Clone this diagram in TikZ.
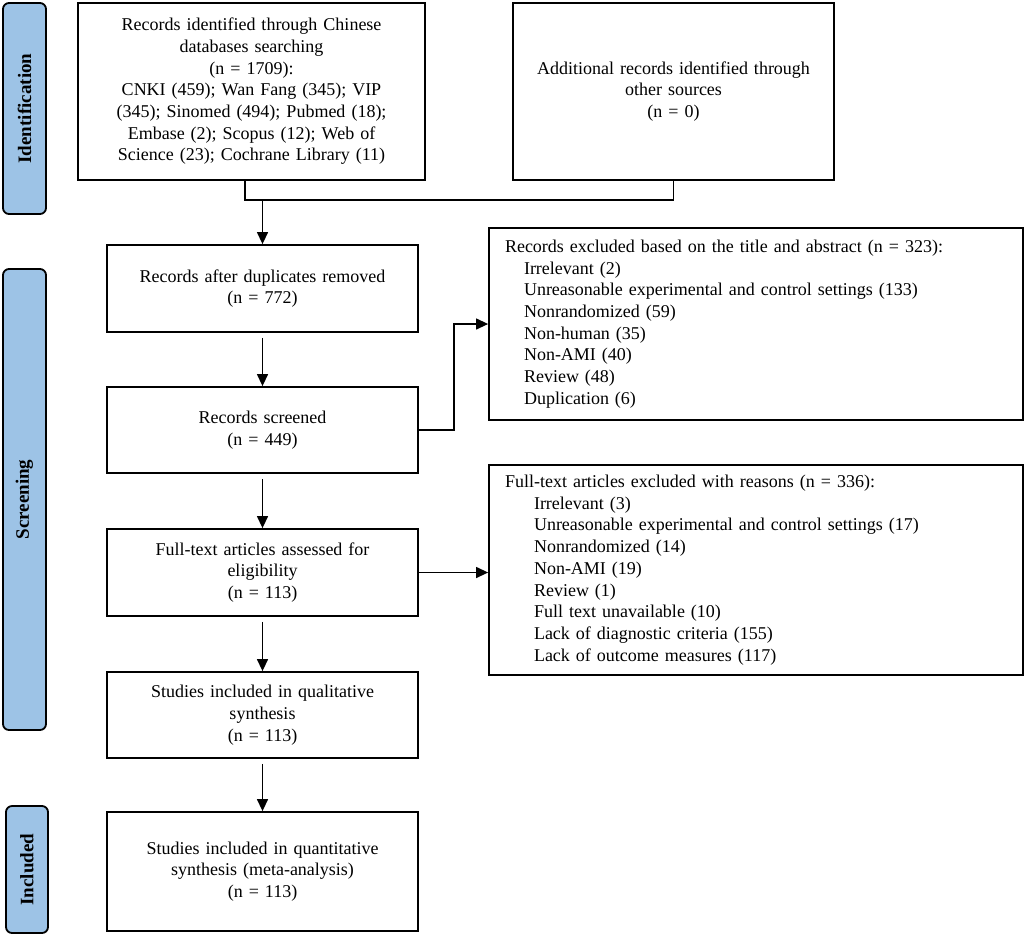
\documentclass[tikz,border=0pt]{standalone}
\usepackage{fontspec}
\setmainfont{Liberation Serif}
\usetikzlibrary{arrows.meta}
\definecolor{tabblue}{RGB}{157,195,230}

\begin{document}
\begin{tikzpicture}[x=1pt,y=-1pt,
  box/.style={draw,line width=1.8pt,align=center,inner xsep=6pt,font=\fontsize{18}{21.7}\selectfont},
  exbox/.style={draw,line width=1.8pt,align=left,inner xsep=16pt,text width=502pt,font=\fontsize{18}{21.7}\selectfont},
  tab/.style={draw,line width=1.8pt,fill=tabblue,rounded corners=6pt,rotate=90,font=\fontsize{19}{22}\selectfont\bfseries},
  arr/.style={line width=1.3pt,-{Triangle[length=12pt,width=11pt]}},
  link/.style={line width=1.3pt}]
\useasboundingbox (0,0) rectangle (1024,935);

% side tabs
\node[tab,minimum width=211pt,minimum height=43pt] (tabid) at (24.5,108.5) {Identification};
\node[tab,minimum width=461pt,minimum height=43pt] (tabscr) at (24.5,499.5) {Screening};
\node[tab,minimum width=127pt,minimum height=42pt] (tabinc) at (27,869.5) {Included};

% identification
\node[box,text width=335pt,minimum height=177pt] (rec) at (251.5,91.5) {Records identified through Chinese\\databases searching\\(n = 1709):\\CNKI (459); Wan Fang (345); VIP\\(345); Sinomed (494); Pubmed (18);\\Embase (2); Scopus (12); Web of\\Science (23); Cochrane Library (11)};
\node[box,text width=309pt,minimum height=177pt] (add) at (673.5,91.5) {Additional records identified through\\other sources\\(n = 0)};

% screening
\node[box,text width=299pt,minimum height=87pt] (dup) at (262.5,288.5) {Records after duplicates removed\\(n = 772)};
\node[box,text width=299pt,minimum height=86pt] (scr) at (262.5,430) {Records screened\\(n = 449)};
\node[box,text width=299pt,minimum height=87pt] (full) at (262.5,572.5) {Full-text articles assessed for\\eligibility\\(n = 113)};
\node[box,text width=299pt,minimum height=86pt] (qual) at (262.5,715) {Studies included in qualitative\\synthesis\\(n = 113)};

% included
\node[box,text width=299pt,minimum height=119pt] (quan) at (262.5,871.5) {Studies included in quantitative\\synthesis (meta-analysis)\\(n = 113)};

% exclusions
\node[exbox,minimum height=192pt] (exc1) at (756,324) {Records excluded based on the title and abstract (n = 323):\\
\hspace*{19pt}Irrelevant (2)\\
\hspace*{19pt}Unreasonable experimental and control settings (133)\\
\hspace*{19pt}Nonrandomized (59)\\
\hspace*{19pt}Non-human (35)\\
\hspace*{19pt}Non-AMI (40)\\
\hspace*{19pt}Review (48)\\
\hspace*{19pt}Duplication (6)};
\node[exbox,minimum height=210pt] (exc2) at (756,570) {Full-text articles excluded with reasons (n = 336):\\
\hspace*{29pt}Irrelevant (3)\\
\hspace*{29pt}Unreasonable experimental and control settings (17)\\
\hspace*{29pt}Nonrandomized (14)\\
\hspace*{29pt}Non-AMI (19)\\
\hspace*{29pt}Review (1)\\
\hspace*{29pt}Full text unavailable (10)\\
\hspace*{29pt}Lack of diagnostic criteria (155)\\
\hspace*{29pt}Lack of outcome measures (117)};

% connectors
\coordinate (join) at (262.5,200);
\draw[link] ([xshift=-6.5pt]rec.south) -- ([xshift=-6.5pt]rec.south |- join) -- (join -| add.south) -- (add.south);
\draw[arr] (join) -- (join |- dup.north);
\draw[arr,shorten <=5pt] (dup.south) -- (scr.north);
\draw[arr,shorten <=5pt] (scr.south) -- (full.north);
\draw[arr,shorten <=5pt] (full.south) -- (qual.north);
\draw[arr,shorten <=5pt] (qual.south) -- (quan.north);
\draw[arr] (scr.east) -- ++(35,0) |- (exc1.west);
\draw[arr] (full.east) -- (full.east -| exc2.west);
\end{tikzpicture}
\end{document}
